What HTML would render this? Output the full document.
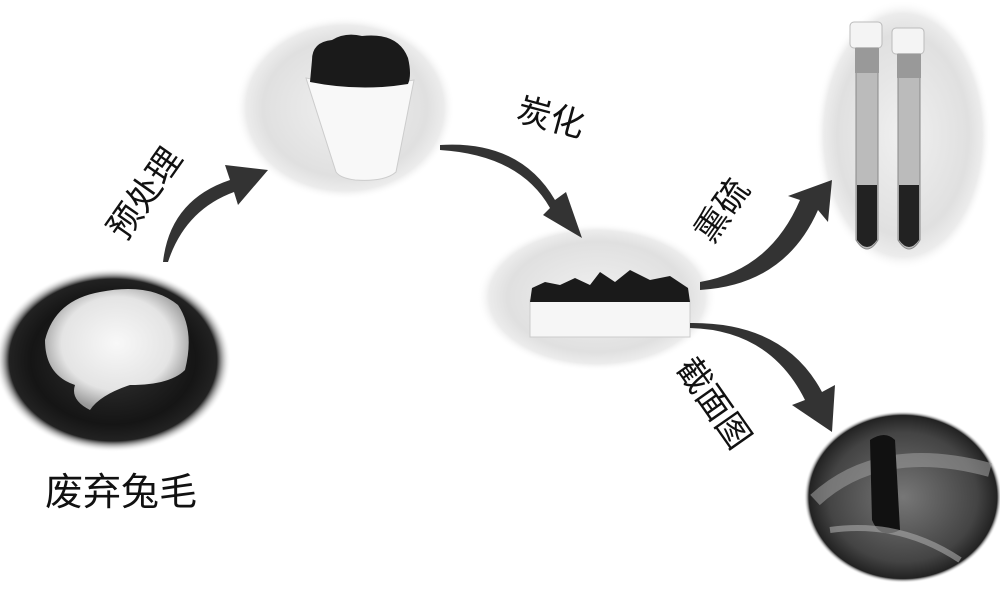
<!DOCTYPE html>
<html><head><meta charset="utf-8"><style>
body{margin:0;background:#fff;}
svg{display:block}
text{font-family:"Liberation Sans","Noto Sans CJK SC",sans-serif;fill:#111}
</style></head><body>
<svg width="1000" height="590" viewBox="0 0 1000 590" xmlns="http://www.w3.org/2000/svg">
<defs>
<radialGradient id="gBlack" cx="50%" cy="50%" r="50%">
<stop offset="0" stop-color="#333"/><stop offset="0.7" stop-color="#151515"/><stop offset="0.88" stop-color="#222"/><stop offset="1" stop-color="#fff" stop-opacity="0"/>
</radialGradient>
<radialGradient id="gLight" cx="50%" cy="50%" r="50%">
<stop offset="0" stop-color="#f0f0f0"/><stop offset="0.75" stop-color="#e0e0e0"/><stop offset="0.9" stop-color="#ececec"/><stop offset="1" stop-color="#fff" stop-opacity="0"/>
</radialGradient>
<radialGradient id="gSem" cx="50%" cy="50%" r="50%">
<stop offset="0" stop-color="#777"/><stop offset="0.75" stop-color="#444"/><stop offset="0.95" stop-color="#222"/><stop offset="1" stop-color="#fff" stop-opacity="0"/>
</radialGradient>
<radialGradient id="gWool" cx="50%" cy="45%" r="55%">
<stop offset="0" stop-color="#f8f8f8"/><stop offset="0.7" stop-color="#e4e4e4"/><stop offset="1" stop-color="#999"/>
</radialGradient>
</defs>

<!-- wool -->
<ellipse cx="113" cy="360" rx="118" ry="92" fill="url(#gBlack)"/>
<path d="M45 340 Q55 300 100 292 Q150 282 178 305 Q195 330 185 370 Q170 385 130 385 Q100 395 90 410 Q70 400 75 385 Q45 375 45 340Z" fill="url(#gWool)"/>

<!-- crucible -->
<ellipse cx="345" cy="108" rx="110" ry="92" fill="url(#gLight)"/>
<path d="M306 78 Q360 90 414 80 L396 172 Q385 182 355 180 Q340 178 336 172 Z" fill="#f8f8f8" stroke="#ccc"/>
<path d="M312 60 Q312 42 332 40 Q345 32 362 36 Q398 32 408 58 Q412 75 408 84 Q360 92 310 82 Z" fill="#1a1a1a"/>

<!-- boat -->
<ellipse cx="597" cy="297" rx="120" ry="74" fill="url(#gLight)"/>
<rect x="530" y="300" width="160" height="37" fill="#f6f6f6" stroke="#ccc"/>
<path d="M530 302 L532 288 L545 282 L560 285 L575 278 L590 285 L600 272 L615 282 L630 270 L650 280 L670 276 L688 288 L690 302 Z" fill="#1a1a1a"/>

<!-- test tubes -->
<ellipse cx="903" cy="135" rx="88" ry="135" fill="url(#gLight)"/>
<rect x="850" y="22" width="32" height="26" rx="4" fill="#f4f4f4" stroke="#bbb"/>
<rect x="892" y="28" width="32" height="26" rx="4" fill="#f4f4f4" stroke="#bbb"/>
<path d="M856 48 L878 48 L878 240 Q867 258 856 240 Z" fill="#bbb" stroke="#888"/>
<path d="M898 54 L920 54 L920 240 Q909 258 898 240 Z" fill="#bbb" stroke="#888"/>
<rect x="855" y="48" width="24" height="25" fill="#999"/>
<rect x="897" y="54" width="24" height="24" fill="#999"/>
<path d="M857 185 L877 185 L877 240 Q867 254 857 240 Z" fill="#222"/>
<path d="M899 185 L919 185 L919 240 Q909 254 899 240 Z" fill="#222"/>

<!-- SEM -->
<ellipse cx="903" cy="497" rx="99" ry="86" fill="url(#gSem)"/>
<path d="M815 500 Q880 440 990 470" stroke="#999" stroke-width="14" fill="none" opacity="0.6"/>
<path d="M870 440 Q885 430 895 440 L900 530 Q880 540 872 520 Z" fill="#111"/>
<path d="M830 530 Q900 520 960 560" stroke="#aaa" stroke-width="6" fill="none" opacity="0.6"/>

<!-- arrows -->
<g fill="#333">
<path d="M163 262 Q170 200 230 180 L225 165 L268 170 L238 205 L234 192 Q185 210 168 262 Z"/>
<path d="M440 145 Q520 140 555 200 L566 192 L582 238 L543 215 L550 208 Q520 155 440 150 Z"/>
<path d="M700 282 Q770 270 800 200 L788 196 L832 180 L828 222 L818 210 Q785 285 700 290 Z"/>
<path d="M690 328 Q770 330 805 400 L792 405 L832 432 L835 385 L822 392 Q785 322 690 323 Z"/>
</g>

<!-- labels -->
<text x="45" y="505" font-size="38">废弃兔毛</text>
<text font-size="34" transform="translate(125,242) rotate(-55)">预处理</text>
<text font-size="34" transform="translate(515,120) rotate(15)">炭化</text>
<text font-size="34" transform="translate(712,245) rotate(-55)">熏硫</text>
<text font-size="34" transform="translate(675,368) rotate(55)">截面图</text>
</svg>
</body></html>
